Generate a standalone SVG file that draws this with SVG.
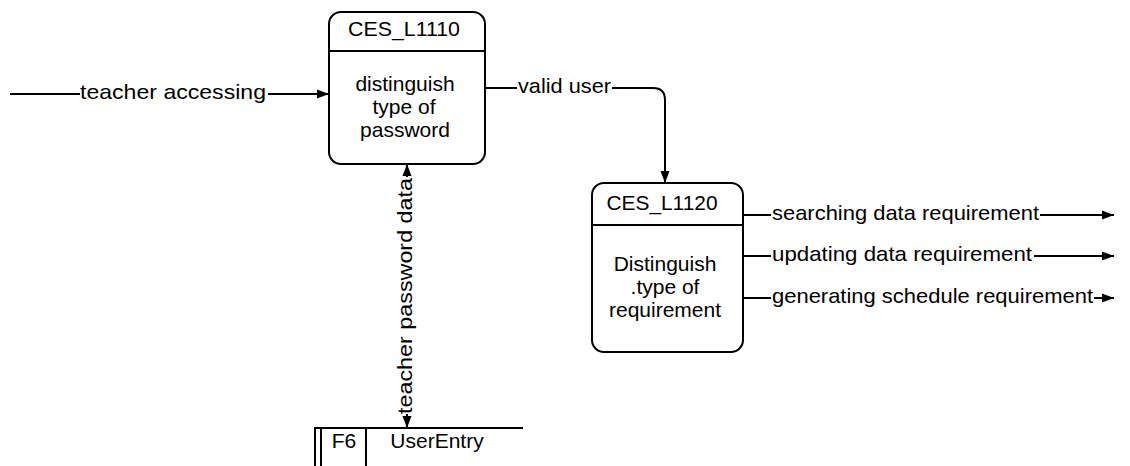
<svg xmlns="http://www.w3.org/2000/svg" width="1130" height="466" viewBox="0 0 1130 466">
<style>
text{font-family:"Liberation Sans",Arial,sans-serif;font-size:21px;fill:#000}
.c{text-anchor:middle}
.box{fill:#fff;stroke:#000;stroke-width:2}
.ln{fill:none;stroke:#000;stroke-width:2}
</style>
<defs>
<marker id="ah" viewBox="0 0 12 10" refX="12" refY="5" markerWidth="12" markerHeight="10" markerUnits="userSpaceOnUse" orient="auto-start-reverse">
<path d="M0,0.5 L12,5 L0,9.5 Z" fill="#000"/>
</marker>
</defs>
<rect width="1130" height="466" fill="#fff"/>
<g id="connectors">
<line class="ln" x1="10" y1="94" x2="80" y2="94"/>
<line class="ln" x1="268" y1="94" x2="329" y2="94" marker-end="url(#ah)"/>
<text x="80" y="99" textLength="186" lengthAdjust="spacingAndGlyphs">teacher accessing</text>
<line class="ln" x1="485" y1="88" x2="517" y2="88"/>
<path class="ln" d="M612,88 H653 Q665,88 665,100 V183" marker-end="url(#ah)"/>
<text x="518" y="93" textLength="93" lengthAdjust="spacingAndGlyphs">valid user</text>
<line class="ln" x1="407" y1="164" x2="407" y2="177" marker-start="url(#ah)"/>
<line class="ln" x1="407" y1="414" x2="407" y2="428" marker-end="url(#ah)"/>
<text class="c" transform="translate(412,296) rotate(-90)" textLength="236" lengthAdjust="spacingAndGlyphs">teacher password data</text>
<line class="ln" x1="743" y1="215" x2="771" y2="215"/>
<line class="ln" x1="1040" y1="215" x2="1114" y2="215" marker-end="url(#ah)"/>
<text x="772" y="220" textLength="267" lengthAdjust="spacingAndGlyphs">searching data requirement</text>
<line class="ln" x1="743" y1="256" x2="771" y2="256"/>
<line class="ln" x1="1034" y1="256" x2="1114" y2="256" marker-end="url(#ah)"/>
<text x="772" y="261" textLength="260" lengthAdjust="spacingAndGlyphs">updating data requirement</text>
<line class="ln" x1="743" y1="298" x2="771" y2="298"/>
<line class="ln" x1="1094" y1="298" x2="1114" y2="298" marker-end="url(#ah)"/>
<text x="772" y="303" textLength="321" lengthAdjust="spacingAndGlyphs">generating schedule requirement</text>
</g>
<g id="CES_L1110">
<rect class="box" x="329" y="12" width="156" height="152" rx="12"/>
<line class="ln" x1="329" y1="51" x2="485" y2="51"/>
<text class="c" x="404" y="36" textLength="112" lengthAdjust="spacingAndGlyphs">CES_L1110</text>
<text class="c" x="405" y="91">distinguish</text>
<text class="c" x="404" y="114">type of</text>
<text class="c" x="405" y="137">password</text>
</g>
<g id="CES_L1120">
<rect class="box" x="592" y="183" width="151" height="169" rx="12"/>
<line class="ln" x1="592" y1="225" x2="743" y2="225"/>
<text class="c" x="662" y="210" textLength="111" lengthAdjust="spacingAndGlyphs">CES_L1120</text>
<text class="c" x="665" y="271">Distinguish</text>
<text class="c" x="665" y="294">.type of</text>
<text class="c" x="665" y="317">requirement</text>
</g>
<g id="F6">
<path class="ln" d="M523,428 H315 V466 M321,428 V466 M366,428 V466"/>
<text class="c" x="344" y="448">F6</text>
<text class="c" x="437" y="448">UserEntry</text>
</g>
</svg>
